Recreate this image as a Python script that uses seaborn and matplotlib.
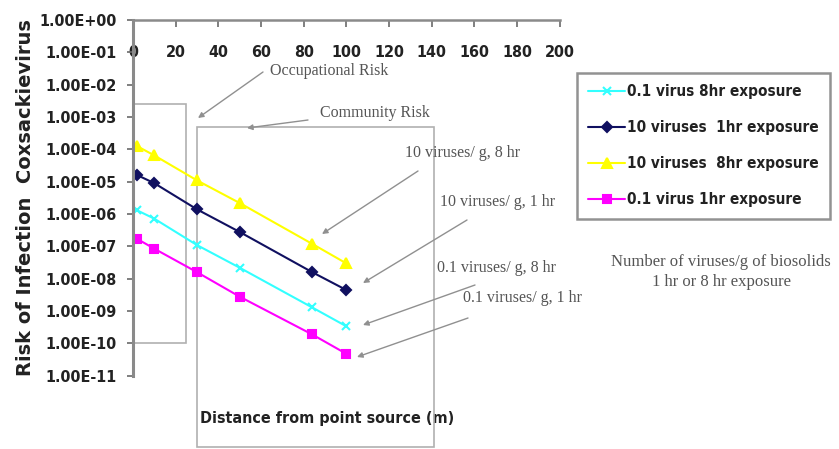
import numpy as np
import pandas as pd
import matplotlib
matplotlib.use('Agg')
import matplotlib.pyplot as plt
import matplotlib.patches as mpatches
from matplotlib.ticker import FixedLocator, FuncFormatter
import seaborn as sns

# Data
distance = [2, 10, 30, 50, 84, 100]
risk_01_8hr = [1.3e-6, 7.2e-7, 1.1e-7, 2.2e-8, 1.3e-9, 3.4e-10]
risk_10_1hr = [1.6e-5, 9.0e-6, 1.4e-6, 2.8e-7, 1.6e-8, 4.5e-9]
risk_10_8hr = [1.25e-4, 6.5e-5, 1.1e-5, 2.2e-6, 1.2e-7, 3.0e-8]
risk_01_1hr = [1.7e-7, 8.5e-8, 1.6e-8, 2.8e-9, 1.9e-10, 4.8e-11]

series_labels = ['0.1 virus 8hr exposure', '10 viruses  1hr exposure',
                 '10 viruses  8hr exposure', '0.1 virus 1hr exposure']
series_values = [risk_01_8hr, risk_10_1hr, risk_10_8hr, risk_01_1hr]
series_colors = ['#33ffff', '#101060', '#ffff00', '#ff00ff']
series_markers = ['x', 'D', '^', 's']
marker_sizes = [6, 5, 7, 6]

x_ticks = list(range(0, 201, 20))
y_ticks = [10.0 ** -k for k in range(0, 12)]

sns.set_style('white')
serif = ['Liberation Serif', 'DejaVu Serif']
cond = dict(family='DejaVu Sans', stretch='condensed', weight='bold')

W, H = 839, 449


def fp(px, py):
    # pixel position measured from the top-left -> figure fraction
    return (px / W, 1 - py / H)


fig = plt.figure(figsize=(8.39, 4.49), dpi=100)
ax = fig.add_axes([0.1585, 0.163, 0.5085, 0.7925])

for lab, vals, col, mk, ms in zip(series_labels, series_values, series_colors,
                                  series_markers, marker_sizes):
    df = pd.DataFrame({'x': distance, 'y': vals})
    sns.lineplot(data=df, x='x', y='y', ax=ax, color=col, marker=mk,
                 markersize=ms, markeredgecolor=col, markeredgewidth=1.5,
                 linewidth=1.5, label=lab)

ax.set_yscale('log')
ax.set_xlim(0, 200)
ax.set_ylim(1e-11, 1)
ax.xaxis.set_major_locator(FixedLocator(x_ticks))
ax.yaxis.set_major_locator(FixedLocator(y_ticks))
ax.yaxis.set_minor_locator(FixedLocator([]))
ax.yaxis.set_major_formatter(FuncFormatter(lambda v, p: '%.2E' % v))

for s in ['right', 'bottom']:
    ax.spines[s].set_visible(False)
ax.spines['left'].set_color('#8a8a8a')
ax.spines['left'].set_linewidth(2.2)
ax.spines['top'].set_color('#8a8a8a')
ax.spines['top'].set_linewidth(1.8)

ax.tick_params(axis='x', top=True, bottom=False, labeltop=True, labelbottom=False,
               direction='in', length=5, width=1.2, color='#6a6a6a', pad=-29)
ax.tick_params(axis='y', left=True, direction='out', length=4, width=1.2,
               color='#6a6a6a', pad=8)
for t in ax.get_xticklabels() + ax.get_yticklabels():
    t.set_family('DejaVu Sans')
    t.set_stretch('condensed')
    t.set_fontsize(11.5)
    t.set_fontweight('bold')
    t.set_color('#222222')

ax.set_xlabel('Distance from point source (m)', fontsize=11.5, color='#222222', **cond)
ax.xaxis.set_label_coords(0.455, -0.1)
ax.set_ylabel('Risk of Infection  Coxsackievirus', fontsize=14, fontweight='bold',
              color='#222222')
ax.yaxis.set_label_coords(-0.23, 0.5)

# risk boxes
ax.add_patch(mpatches.Rectangle((0, 1e-10), 25, 2.5e-3 - 1e-10, fill=False,
                                edgecolor='#b0b0b0', linewidth=1.2, clip_on=False))
ax.add_patch(mpatches.Rectangle((30, 10 ** -13.2), 111, 5e-4 - 10 ** -13.2, fill=False,
                                edgecolor='#b0b0b0', linewidth=1.2, clip_on=False))

arrow = dict(arrowstyle='-|>', color='#909090', lw=1.0, mutation_scale=8,
             shrinkA=0, shrinkB=0)
note_texts = ['Occupational Risk', 'Community Risk', '10 viruses/ g, 8 hr',
              '10 viruses/ g, 1 hr', '0.1 viruses/ g, 8 hr', '0.1 viruses/ g, 1 hr']
text_pos = [(270, 71), (320, 113), (405, 153), (440, 202), (437, 268), (463, 298)]
arrow_from = [(263, 72), (308, 120), (418, 171), (467, 220), (475, 285), (468, 318)]
arrow_to = [(198, 118), (247, 128), (322, 234), (363, 283), (363, 325), (357, 357)]
for txt, tp, a0, a1 in zip(note_texts, text_pos, arrow_from, arrow_to):
    ax.annotate('', xy=fp(*a1), xytext=fp(*a0), xycoords='figure fraction',
                textcoords='figure fraction', arrowprops=arrow, annotation_clip=False)
    fig.text(*fp(*tp), txt, family=serif, fontsize=11.5,
             color='#555555', va='center', ha='left')

fig.text(*fp(721, 272), 'Number of viruses/g of biosolids\n1 hr or 8 hr exposure',
         family=serif, fontsize=12, color='#555555', ha='center', va='center',
         linespacing=1.25)

leg = ax.legend(loc='upper left', bbox_to_anchor=fp(577, 73),
                bbox_transform=fig.transFigure, frameon=True, fancybox=False,
                borderaxespad=0, borderpad=0.75, labelspacing=1.37, handlelength=2.4,
                handletextpad=0.1, prop=dict(size=11, **cond))
leg.get_frame().set_edgecolor('#777777')
leg.get_frame().set_linewidth(1.8)
for t in leg.get_texts():
    t.set_color('#222222')

fig.savefig('out.png', dpi=100)
